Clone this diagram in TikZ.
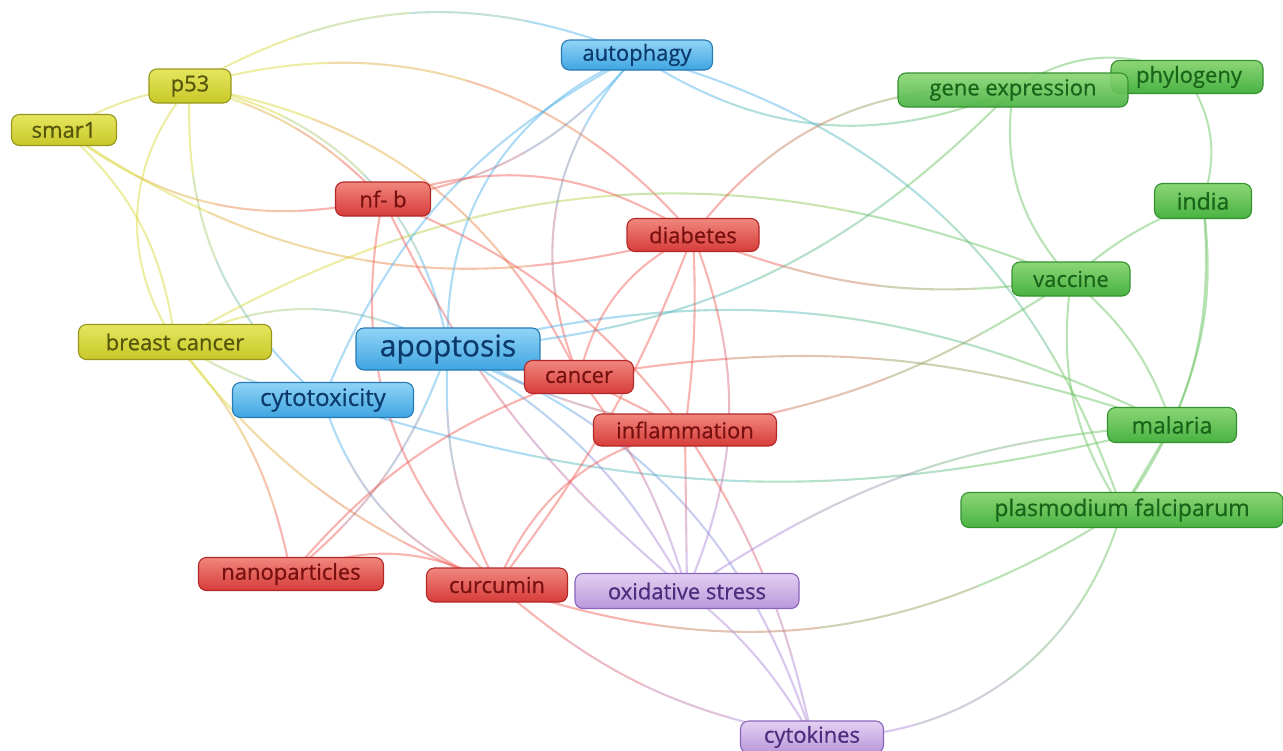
\documentclass[tikz,border=0pt]{standalone}
\usepackage{fontspec}
\setmainfont{Open Sans}[FakeBold=0.6]
\usetikzlibrary{backgrounds}
\definecolor{cY}{RGB}{215,215,55}
\definecolor{cR}{RGB}{238,88,80}
\definecolor{cB}{RGB}{75,175,232}
\definecolor{cG}{RGB}{100,192,90}
\definecolor{cP}{RGB}{170,130,215}
\definecolor{tY}{RGB}{85,85,12}
\definecolor{tR}{RGB}{120,16,16}
\definecolor{tB}{RGB}{12,58,108}
\definecolor{tG}{RGB}{24,100,24}
\definecolor{tP}{RGB}{78,44,125}
\tikzset{
  kw/.style={rounded corners=8pt, line width=1.1pt, inner sep=0pt, font=\fontsize{22}{26}\selectfont},
  kwY/.style={kw, top color={rgb,255:red,230;green,230;blue,95}, bottom color={rgb,255:red,200;green,200;blue,40}, draw={rgb,255:red,150;green,150;blue,30}, text=tY},
  kwR/.style={kw, top color={rgb,255:red,240;green,135;blue,125}, bottom color={rgb,255:red,215;green,60;blue,58}, draw={rgb,255:red,178;green,40;blue,40}, text=tR},
  kwB/.style={kw, top color={rgb,255:red,145;green,212;blue,246}, bottom color={rgb,255:red,62;green,165;blue,225}, draw={rgb,255:red,40;green,122;blue,180}, text=tB},
  kwG/.style={kw, top color={rgb,255:red,140;green,214;blue,118}, bottom color={rgb,255:red,72;green,178;blue,66}, draw={rgb,255:red,52;green,145;blue,48}, text=tG},
  kwP/.style={kw, top color={rgb,255:red,226;green,208;blue,242}, bottom color={rgb,255:red,186;green,152;blue,218}, draw={rgb,255:red,138;green,100;blue,186}, text=tP},
  ed/.style={line width=2.1pt, draw opacity=0.45},
}
% #1 colour at start, #2 colour at end, #3 start node, #4 left/right, #5 bend angle, #6 end node
\newcommand\kwedge[6]{%
  \pgfpointdiff{\pgfpointanchor{#3}{center}}{\pgfpointanchor{#6}{center}}%
  \pgfgetlastxy\kwdx\kwdy
  \pgfmathsetmacro\kwq{veclen(\kwdx,\kwdy)*(1+0.228*sin(#5)^2)/4}%
  \pgfmathsetmacro\kwqb{2*\kwq}%
  \pgfmathsetmacro\kwqc{3*\kwq}%
  \draw[ed,#1,dash pattern=on \kwq pt off 5000pt] (#3.center) to[bend #4=#5] (#6.center);
  \draw[ed,#1!67!#2,dash pattern=on 0pt off \kwq pt on \kwq pt off 5000pt] (#3.center) to[bend #4=#5] (#6.center);
  \draw[ed,#1!33!#2,dash pattern=on 0pt off \kwqb pt on \kwq pt off 5000pt] (#3.center) to[bend #4=#5] (#6.center);
  \draw[ed,#2,dash pattern=on 0pt off \kwqc pt on 5000pt off 1pt] (#3.center) to[bend #4=#5] (#6.center);
}
\begin{document}
\begin{tikzpicture}[x=1pt,y=-1pt]
\useasboundingbox (0,0) rectangle (1283,750);
% nodes
\node[kwY, minimum width=82pt, minimum height=34pt] (p53) at (190,86) {p53};
\node[kwY, minimum width=105pt, minimum height=31pt] (smar) at (64,130) {smar1};
\node[kwY, minimum width=193pt, minimum height=35pt] (brca) at (175,342) {breast cancer};
\node[kwB, minimum width=151pt, minimum height=30pt] (auto) at (637,55) {autophagy};
\node[kwB, minimum width=184pt, minimum height=42pt, font=\fontsize{30}{34}\selectfont] (apop) at (448,349) {apoptosis};
\node[kwB, minimum width=181pt, minimum height=35pt, font=\fontsize{24}{28}\selectfont] (cyto) at (323,400) {cytotoxicity};
\node[kwR, minimum width=95pt, minimum height=34pt] (nfb) at (383,199) {nf- b};
\node[kwR, minimum width=132pt, minimum height=33pt] (diab) at (693,235) {diabetes};
\node[kwR, minimum width=109pt, minimum height=33pt] (canc) at (579,377) {cancer};
\node[kwR, minimum width=183pt, minimum height=32pt] (infl) at (685,430) {inflammation};
\node[kwR, minimum width=185pt, minimum height=33pt] (nano) at (291,574) {nanoparticles};
\node[kwR, minimum width=141pt, minimum height=34pt] (curc) at (497,585) {curcumin};
\node[kwP, minimum width=224pt, minimum height=35pt] (oxid) at (687,591) {oxidative stress};
\node[kwP, minimum width=143pt, minimum height=32pt] (cytk) at (812,737) {cytokines};
\node[kwG, minimum width=152pt, minimum height=33pt] (phyl) at (1187,77) {\hspace*{4pt}phylogeny};
\node[kwG, minimum width=230pt, minimum height=34pt, fill opacity=0.92, text opacity=1] (gene) at (1013,90) {gene expression};
\node[kwG, minimum width=97pt, minimum height=35pt, font=\fontsize{23}{27}\selectfont] (india) at (1203,201) {india};
\node[kwG, minimum width=118pt, minimum height=34pt] (vacc) at (1071,279) {vaccine};
\node[kwG, minimum width=129pt, minimum height=35pt, font=\fontsize{23}{27}\selectfont] (mala) at (1172,425) {malaria};
\node[kwG, minimum width=322pt, minimum height=35pt, font=\fontsize{23}{27}\selectfont] (plas) at (1122,510) {plasmodium falciparum};
% edges
\begin{scope}[on background layer]
% yellow cluster
\kwedge{cY}{cY}{p53}{right}{10}{smar}
\kwedge{cY}{cB}{p53}{left}{26}{auto}
\kwedge{cY}{cR}{p53}{left}{33}{diab}
\kwedge{cY}{cR}{p53}{left}{27}{canc}
\kwedge{cY}{cR}{p53}{left}{15}{nfb}
\kwedge{cY}{cB}{p53}{left}{35}{apop}
\kwedge{cY}{cY}{p53}{right}{37}{brca}
\kwedge{cY}{cB}{p53}{right}{26}{cyto}
\kwedge{cY}{cR}{smar}{right}{25}{nfb}
\kwedge{cY}{cR}{smar}{right}{25}{diab}
\kwedge{cY}{cY}{smar}{left}{20}{brca}
\kwedge{cY}{cG}{brca}{left}{26}{vacc}
\kwedge{cY}{cB}{brca}{left}{27}{apop}
\kwedge{cY}{cB}{brca}{right}{10}{cyto}
\kwedge{cY}{cR}{brca}{left}{15}{nano}
\kwedge{cY}{cR}{brca}{right}{15}{curc}
% blue cluster
\kwedge{cB}{cB}{auto}{right}{35}{apop}
\kwedge{cB}{cB}{auto}{right}{20}{cyto}
\kwedge{cB}{cR}{auto}{left}{20}{nfb}
\kwedge{cB}{cR}{auto}{right}{33}{canc}
\kwedge{cB}{cG}{auto}{left}{28}{plas}
\kwedge{cB}{cG}{auto}{right}{28}{gene}
\kwedge{cB}{cG}{apop}{left}{20}{mala}
\kwedge{cB}{cG}{cyto}{right}{16}{mala}
\kwedge{cB}{cG}{apop}{right}{21}{gene}
\kwedge{cB}{cR}{apop}{left}{0}{canc}
\kwedge{cB}{cR}{apop}{right}{8}{infl}
\kwedge{cB}{cP}{apop}{left}{15}{oxid}
\kwedge{cB}{cR}{apop}{left}{15}{nano}
\kwedge{cB}{cR}{apop}{right}{15}{curc}
\kwedge{cB}{cR}{cyto}{right}{25}{curc}
\kwedge{cB}{cP}{apop}{left}{25}{cytk}
% red cluster
\kwedge{cR}{cR}{nfb}{left}{26}{diab}
\kwedge{cR}{cR}{nfb}{left}{15}{infl}
\kwedge{cR}{cR}{nfb}{right}{28}{curc}
\kwedge{cR}{cP}{nfb}{right}{12}{oxid}
\kwedge{cR}{cR}{diab}{right}{25}{canc}
\kwedge{cR}{cR}{diab}{left}{5}{infl}
\kwedge{cR}{cP}{diab}{left}{22}{oxid}
\kwedge{cR}{cR}{diab}{left}{8}{curc}
\kwedge{cR}{cG}{diab}{right}{15}{vacc}
\kwedge{cR}{cG}{diab}{left}{28}{gene}
\kwedge{cR}{cR}{canc}{left}{0}{infl}
\kwedge{cR}{cG}{canc}{left}{14}{mala}
\kwedge{cR}{cG}{infl}{right}{12}{vacc}
\kwedge{cR}{cR}{infl}{right}{28}{curc}
\kwedge{cR}{cR}{nano}{left}{15}{canc}
\kwedge{cR}{cR}{nano}{left}{25}{curc}
\kwedge{cR}{cG}{curc}{right}{26}{plas}
\kwedge{cR}{cP}{curc}{right}{15}{cytk}
\kwedge{cR}{cP}{infl}{left}{0}{oxid}
\kwedge{cR}{cP}{infl}{left}{10}{cytk}
\kwedge{cR}{cP}{canc}{left}{10}{oxid}
% purple cluster
\kwedge{cP}{cP}{oxid}{left}{10}{cytk}
\kwedge{cP}{cG}{oxid}{left}{15}{mala}
\kwedge{cP}{cG}{cytk}{right}{38}{plas}
% green cluster
\kwedge{cG}{cG}{gene}{left}{30}{phyl}
\kwedge{cG}{cG}{gene}{right}{25}{vacc}
\kwedge{cG}{cG}{phyl}{left}{25}{india}
\kwedge{cG}{cG}{india}{right}{10}{vacc}
\kwedge{cG}{cG}{india}{left}{15}{mala}
\kwedge{cG}{cG}{india}{left}{20}{plas}
\kwedge{cG}{cG}{vacc}{left}{15}{mala}
\kwedge{cG}{cG}{vacc}{right}{20}{plas}
\kwedge{cG}{cG}{mala}{left}{0}{plas}
\end{scope}
\end{tikzpicture}
\end{document}
